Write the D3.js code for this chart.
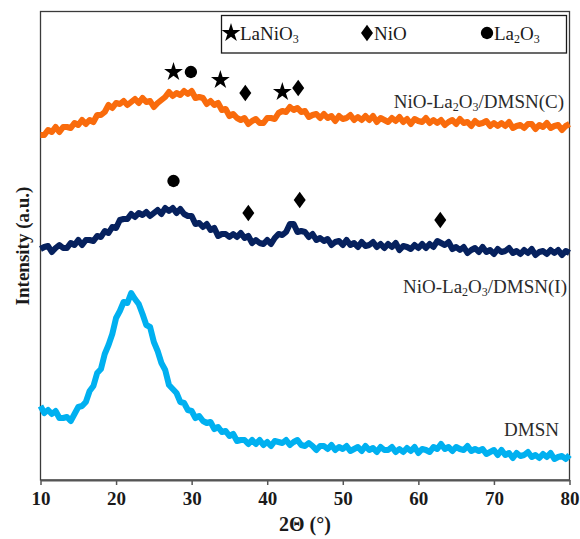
<!DOCTYPE html>
<html>
<head>
<meta charset="utf-8">
<script src="https://cdn.jsdelivr.net/npm/d3@7"></script>
<style>
  body { margin: 0; background: #fff; }
  svg { display: block; font-family: "Liberation Serif", "Times New Roman", serif; }
</style>
</head>
<body>
<div id="chart"></div>
<script>
// --- Data (intensity in a.u., 2θ from 10° to 80° every 0.5°) ---
const thetaStart = 10;
const thetaStep = 0.5;

const dmsn = [74,67,70,66,69,62,62,63,59,66,73,74,78,89,94,107,111,126,135,146,
  162,169,178,177,187,181,176,166,155,153,138,129,117,110,95,91,87,78,77,70,
  69,62,64,59,57,58,51,53,48,49,44,46,39,40,40,36,40,36,40,35,
  38,34,39,38,37,40,35,38,40,35,34,37,34,30,34,34,31,35,30,33,
  31,34,29,31,33,29,34,30,32,28,33,30,30,33,28,31,28,32,29,33,
  27,31,30,28,33,31,36,31,33,29,33,31,30,34,29,31,29,31,26,28,
  30,25,30,25,27,22,27,24,25,28,23,25,22,26,23,27,21,23,24,21,25];

const nioI = [231,233,234,228,232,235,232,232,237,235,240,235,240,240,239,244,243,249,247,253,
  252,260,261,261,266,263,267,265,268,264,267,270,266,272,269,272,267,271,266,264,
  264,256,257,253,256,250,252,244,246,246,243,246,243,247,242,244,237,240,237,236,
  240,236,242,246,245,248,256,256,248,249,248,243,246,240,242,239,241,235,238,239,
  235,240,235,237,233,238,234,235,238,233,236,232,236,233,237,230,234,233,231,235,
  232,236,232,236,233,239,237,235,238,231,233,230,233,227,230,232,228,233,228,230,
  226,231,228,229,232,227,229,226,230,227,231,225,228,229,226,230,227,230,225,229,227];

const nioC = [345,345,350,348,353,348,353,353,352,357,355,360,356,360,358,365,365,368,375,372,
  377,376,379,375,378,381,377,382,378,379,373,377,380,383,388,384,387,385,389,386,
  389,382,383,382,376,379,375,377,370,371,364,366,362,360,362,356,359,361,357,357,
  362,362,361,367,369,368,373,370,372,368,369,363,365,366,362,366,362,364,359,364,
  361,362,365,360,363,360,364,360,364,358,362,360,358,362,359,363,358,361,356,361,
  359,358,362,357,360,357,360,355,358,360,356,361,357,358,354,359,356,357,359,354,
  357,354,357,354,358,352,354,355,352,356,356,351,355,353,357,352,354,355,350,354,356];

const seriesValues = [nioC, nioI, dmsn];
const seriesNames = ["NiO-La2O3/DMSN(C)", "NiO-La2O3/DMSN(I)", "DMSN"];
const seriesColors = ["#f96b0c", "#06215e", "#00b0f0"];

const xTicks = [10, 20, 30, 40, 50, 60, 70, 80];

// phase markers above the peaks
const markerTheta = [27.6, 29.9, 33.8, 37.1, 42.0, 44.1, 27.6, 37.5, 44.3, 62.9];
const markerIntensity = [408, 408, 400, 387, 388, 392, 299, 267, 280, 260];
const markerPhase = ["LaNiO3", "La2O3", "LaNiO3", "NiO", "LaNiO3", "NiO", "La2O3", "NiO", "NiO", "NiO"];

const legendPhases = ["LaNiO3", "NiO", "La2O3"];

// --- Dimensions ---
const width = 580;
const height = 539;
const plot = { left: 40.5, right: 569.5, top: 11.5, bottom: 480 };

const svg = d3.select("#chart").append("svg")
  .attr("width", width)
  .attr("height", height);

// --- Scales ---
const x = d3.scaleLinear().domain([10, 80]).range([plot.left, plot.right]);
const y = d3.scaleLinear().domain([0, 468.5]).range([plot.bottom, plot.top]);

const symbolFor = {
  LaNiO3: d3.symbol().type(d3.symbolStar).size(110),
  NiO: d3.symbol().type(d3.symbolDiamond).size(80),
  La2O3: d3.symbol().type(d3.symbolCircle).size(120)
};
// the diamonds in the picture are a bit wider than d3's
const symbolScale = { LaNiO3: "", NiO: " scale(1.25,1)", La2O3: "" };

// text with digits drawn as subscripts
function chemText(sel, label, subSize) {
  label.split(/(\d)/).filter(s => s.length).forEach(part => {
    const t = sel.append("tspan").text(part);
    if (/^\d$/.test(part)) {
      t.attr("font-size", subSize).attr("baseline-shift", "-3");
    }
  });
}

// --- Frame ---
svg.append("rect")
  .attr("x", plot.left)
  .attr("y", plot.top)
  .attr("width", plot.right - plot.left)
  .attr("height", plot.bottom - plot.top)
  .attr("fill", "none")
  .attr("stroke", "#3a3a3a")
  .attr("stroke-width", 1.3);

// --- Lines ---
const line = d3.line()
  .x((d, i) => x(thetaStart + i * thetaStep))
  .y(d => y(d));

svg.append("g")
  .selectAll("path")
  .data(seriesValues)
  .join("path")
  .attr("d", line)
  .attr("fill", "none")
  .attr("stroke", (d, i) => seriesColors[i])
  .attr("stroke-width", 6)
  .attr("stroke-linejoin", "round");

// --- Bottom axis ---
const xAxis = svg.append("g")
  .attr("transform", `translate(0,${plot.bottom})`)
  .call(d3.axisBottom(x).tickValues(xTicks).tickSize(5).tickSizeOuter(0).tickFormat(d3.format("d")));

xAxis.select(".domain").attr("stroke", "#555").attr("stroke-width", 2.2);
xAxis.selectAll(".tick line").attr("stroke", "#555").attr("stroke-width", 1.5);
xAxis.selectAll(".tick text")
  .attr("y", 12)
  .attr("fill", "#1a1a1a")
  .attr("font-size", 19)
  .attr("font-weight", "bold")
  .attr("font-family", "Liberation Serif, serif");

svg.append("text")
  .attr("x", (plot.left + plot.right) / 2)
  .attr("y", 531)
  .attr("text-anchor", "middle")
  .attr("font-size", 20)
  .attr("font-weight", "bold")
  .attr("fill", "#1a1a1a")
  .text("2Θ (°)");

svg.append("text")
  .attr("transform", "translate(29,246) rotate(-90)")
  .attr("text-anchor", "middle")
  .attr("font-size", 19)
  .attr("font-weight", "bold")
  .attr("fill", "#1a1a1a")
  .text("Intensity (a.u.)");

// --- Series labels ---
const labelPos = [[564, 108], [567, 293], [559, 436]];
seriesNames.forEach((name, i) => {
  const t = svg.append("text")
    .attr("x", labelPos[i][0])
    .attr("y", labelPos[i][1])
    .attr("text-anchor", "end")
    .attr("font-size", 19)
    .attr("fill", "#2a2a2a");
  chemText(t, name, 12);
});

// --- Phase markers ---
svg.append("g")
  .selectAll("path")
  .data(markerTheta)
  .join("path")
  .attr("transform", (d, i) => `translate(${x(d)},${y(markerIntensity[i])})${symbolScale[markerPhase[i]]}`)
  .attr("d", (d, i) => symbolFor[markerPhase[i]]())
  .attr("fill", "#000");

// --- Legend ---
const legend = svg.append("g");
legend.append("rect")
  .attr("x", 221.5)
  .attr("y", 15.5)
  .attr("width", 345)
  .attr("height", 37.5)
  .attr("fill", "#fff")
  .attr("stroke", "#1a1a1a")
  .attr("stroke-width", 1.3);

const legendX = [231, 367, 487];
legendPhases.forEach((p, i) => {
  legend.append("path")
    .attr("transform", `translate(${legendX[i]},33)${symbolScale[p]}`)
    .attr("d", symbolFor[p]())
    .attr("fill", "#000");
  const t = legend.append("text")
    .attr("x", legendX[i] + (p === "LaNiO3" ? 9 : 7))
    .attr("y", 40)
    .attr("font-size", 19)
    .attr("fill", "#1a1a1a");
  chemText(t, p, 12);
});
</script>
</body>
</html>
